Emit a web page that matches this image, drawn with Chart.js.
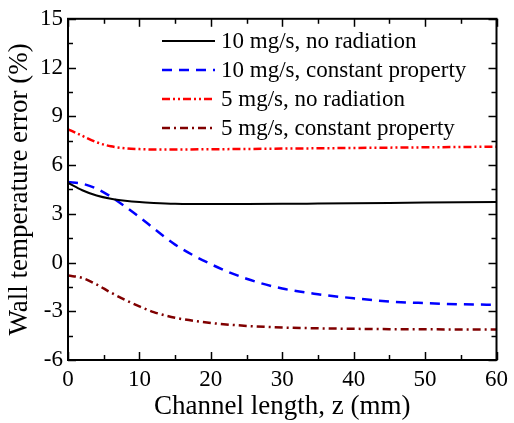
<!DOCTYPE html>
<html><head><meta charset="utf-8">
<script src="https://cdn.jsdelivr.net/npm/chart.js@4/dist/chart.umd.min.js"></script>
<style>html,body{margin:0;padding:0;background:#fff}#wrap{width:514px;height:423px}</style>
</head><body><div id="wrap"><canvas id="c" width="514" height="423"></canvas></div>
<script>
const zValues = [0,2,4,6,8,10,12,15,20,25,30,35,40,45,50,55,60];
const s10NoRad = [4.9,4.45,4.12,3.92,3.8,3.72,3.67,3.62,3.6,3.6,3.61,3.63,3.65,3.67,3.69,3.71,3.73];
const s10Const = [4.95,4.85,4.55,4.05,3.45,2.8,2.1,1.1,-0.1,-1.0,-1.6,-1.95,-2.2,-2.4,-2.5,-2.57,-2.6];
const s5NoRad = [8.2,7.8,7.4,7.15,7.03,6.98,6.96,6.96,6.97,6.99,7.01,7.03,7.05,7.07,7.09,7.11,7.13];
const s5Const = [-0.8,-0.95,-1.35,-1.85,-2.3,-2.7,-3.05,-3.4,-3.72,-3.9,-4.0,-4.05,-4.08,-4.1,-4.11,-4.12,-4.13];
const seriesLabels = ["10 mg/s, no radiation","10 mg/s, constant property","5 mg/s, no radiation","5 mg/s, constant property"];
const xTicks = [0,10,20,30,40,50,60];
const yTicks = [-6,-3,0,3,6,9,12,15];

const pts = arr => zValues.map((z,i)=>({x:z,y:arr[i]}));
const styles = [
  {c:'#000000', d:[], w:2},
  {c:'#0000ff', d:[10,7], w:2.5},
  {c:'#ff0000', d:[8,3,2,3,2,3], w:2.5},
  {c:'#800000', d:[8,4,2,4], w:2.5}
];
const seriesData = [s10NoRad,s10Const,s5NoRad,s5Const];
const datasets = seriesData.map((arr,i)=>({
  label: seriesLabels[i], data: pts(arr), borderColor: styles[i].c, borderDash: styles[i].d,
  borderWidth: styles[i].w, pointRadius: 0, fill:false, cubicInterpolationMode:'monotone'
}));

const FONT = '"Liberation Serif", "Times New Roman", serif';

const deco = {
  id:'deco',
  afterDraw(chart){
    const ctx = chart.ctx, a = chart.chartArea, xs = chart.scales.x, ys = chart.scales.y;
    ctx.save();
    ctx.strokeStyle = '#000'; ctx.lineWidth = 1.5; ctx.setLineDash([]);
    for (let v=0; v<=60; v+=5){
      const p = Math.round(xs.getPixelForValue(v))+0.5;
      const L = (v%10===0)?8:5;
      ctx.beginPath(); ctx.moveTo(p,a.bottom); ctx.lineTo(p,a.bottom-L); ctx.stroke();
      ctx.beginPath(); ctx.moveTo(p,a.top); ctx.lineTo(p,a.top+L); ctx.stroke();
    }
    for (let v=-6; v<=15; v+=1.5){
      const p = Math.round(ys.getPixelForValue(v))+0.5;
      const L = (Math.abs(v%3)<1e-9)?8:5;
      ctx.beginPath(); ctx.moveTo(a.left,p); ctx.lineTo(a.left+L,p); ctx.stroke();
      ctx.beginPath(); ctx.moveTo(a.right,p); ctx.lineTo(a.right-L,p); ctx.stroke();
    }
    ctx.lineWidth = 2;
    ctx.strokeRect(a.left, a.top, a.right-a.left, a.bottom-a.top);
    ctx.font = '23px ' + FONT; ctx.textBaseline='middle'; ctx.textAlign='left'; ctx.fillStyle='#000';
    const rows = [41,70,99,128];
    chart.data.datasets.forEach((ds,i)=>{
      ctx.strokeStyle = ds.borderColor; ctx.lineWidth = ds.borderWidth; ctx.setLineDash(ds.borderDash);
      ctx.beginPath(); ctx.moveTo(162,rows[i]); ctx.lineTo(215,rows[i]); ctx.stroke();
      ctx.setLineDash([]);
      ctx.fillText(ds.label, 221, rows[i]+1);
    });
    ctx.restore();
  }
};

new Chart(document.getElementById('c'), {
  type:'line',
  data:{datasets},
  options:{
    responsive:false, animation:false, devicePixelRatio:1,
    layout:{padding:{left:0,top:15,right:14,bottom:0}},
    plugins:{legend:{display:false}, tooltip:{enabled:false}},
    scales:{
      x:{type:'linear', min:0, max:60,
         afterBuildTicks(s){ s.ticks = xTicks.map(v=>({value:v})); },
         afterFit(s){ s.height = 63; },
         grid:{display:false, drawTicks:false}, border:{display:false},
         ticks:{font:{family:FONT,size:23}, color:'#000', padding:6, maxRotation:0},
         title:{display:true, text:'Channel length, z (mm)', font:{family:FONT,size:27}, color:'#000', padding:{top:-10,bottom:0}}
      },
      y:{min:-6, max:15,
         afterBuildTicks(s){ s.ticks = yTicks.map(v=>({value:v})); },
         afterFit(s){ s.width = 68; },
         grid:{display:false, drawTicks:false}, border:{display:false},
         ticks:{font:{family:FONT,size:23}, color:'#000', padding:5},
         title:{display:true, text:'Wall temperature error (%)', font:{family:FONT,size:27}, color:'#000', padding:{top:4,bottom:0}}
      }
    }
  },
  plugins:[deco]
});
</script></body></html>
